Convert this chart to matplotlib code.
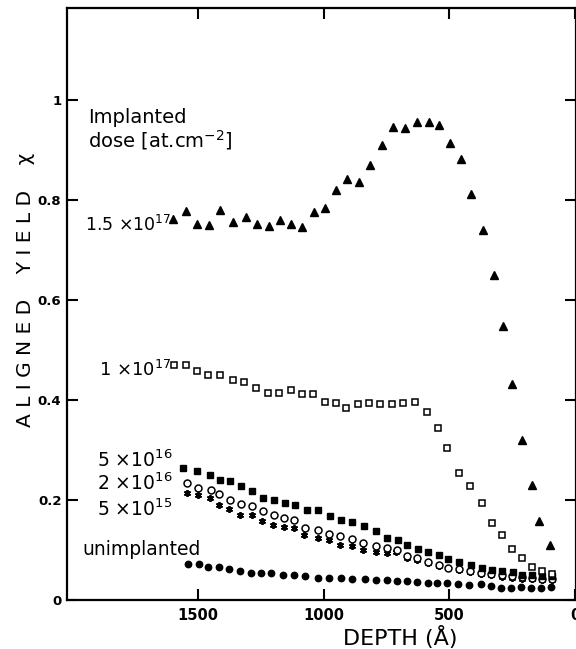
import numpy as np
import matplotlib
matplotlib.use('Agg')
import matplotlib.pyplot as plt

plt.rcParams['font.family'] = ['DejaVu Sans']
plt.rcParams['mathtext.default'] = 'regular'

# Donnees (profondeur en Angstrom, rendement aligne chi)
depth_15e17 = [1600, 1547, 1503, 1457, 1412, 1363, 1311, 1266, 1219, 1176, 1130, 1085,
               1040, 994, 950, 906, 858, 816, 769, 724, 675, 629, 583, 541, 499, 455,
               413, 367, 323, 288, 251, 211, 171, 143, 100]
chi_15e17 = [0.763, 0.779, 0.752, 0.751, 0.780, 0.756, 0.766, 0.752, 0.748, 0.761, 0.753,
             0.747, 0.776, 0.785, 0.821, 0.843, 0.837, 0.870, 0.911, 0.947, 0.945, 0.957,
             0.957, 0.951, 0.915, 0.883, 0.813, 0.741, 0.651, 0.548, 0.433, 0.320, 0.231,
             0.158, 0.111]

depth_1e17 = [1598, 1550, 1504, 1459, 1413, 1363, 1317, 1270, 1223, 1179, 1132, 1088,
              1043, 995, 951, 910, 865, 820, 775, 730, 685, 638, 588, 547, 508, 462,
              418, 371, 330, 292, 251, 211, 173, 132, 90]
chi_1e17 = [0.471, 0.471, 0.458, 0.451, 0.451, 0.441, 0.436, 0.425, 0.415, 0.415, 0.420,
            0.413, 0.413, 0.397, 0.395, 0.385, 0.393, 0.395, 0.392, 0.393, 0.395, 0.397,
            0.376, 0.345, 0.305, 0.255, 0.229, 0.195, 0.155, 0.131, 0.103, 0.085, 0.067,
            0.059, 0.052]

depth_5e16 = [1562, 1503, 1454, 1413, 1374, 1330, 1285, 1242, 1198, 1156, 1114, 1066,
              1021, 975, 932, 886, 839, 794, 750, 703, 667, 625, 586, 543, 504, 460,
              414, 372, 329, 289, 247, 211, 171, 132, 93]
chi_5e16 = [0.265, 0.258, 0.251, 0.240, 0.239, 0.228, 0.219, 0.205, 0.201, 0.195, 0.190,
            0.181, 0.180, 0.168, 0.161, 0.157, 0.148, 0.139, 0.125, 0.120, 0.111, 0.103,
            0.097, 0.091, 0.083, 0.077, 0.070, 0.065, 0.060, 0.059, 0.057, 0.051, 0.051,
            0.049, 0.049]

depth_2e16 = [1545, 1499, 1450, 1416, 1374, 1330, 1284, 1242, 1200, 1160, 1117, 1073,
              1021, 978, 935, 886, 844, 794, 748, 707, 669, 628, 586, 543, 504, 462,
              418, 375, 333, 292, 252, 212, 173, 133, 93]
chi_2e16 = [0.235, 0.225, 0.221, 0.212, 0.200, 0.192, 0.188, 0.179, 0.170, 0.165, 0.160,
            0.145, 0.140, 0.133, 0.129, 0.123, 0.115, 0.108, 0.105, 0.101, 0.089, 0.085,
            0.077, 0.070, 0.065, 0.062, 0.058, 0.055, 0.052, 0.050, 0.048, 0.046, 0.044,
            0.043, 0.042]

depth_5e15 = [1545, 1499, 1453, 1417, 1376, 1334, 1285, 1244, 1202, 1159, 1120, 1077,
              1024, 981, 935, 886, 843, 794, 750, 711, 669, 628, 586, 543, 504, 462,
              418, 375, 333, 292, 252, 212, 173, 133, 93]
chi_5e15 = [0.215, 0.211, 0.205, 0.190, 0.182, 0.170, 0.170, 0.158, 0.151, 0.147, 0.145,
            0.130, 0.125, 0.120, 0.111, 0.108, 0.101, 0.097, 0.095, 0.097, 0.085, 0.080,
            0.074, 0.068, 0.064, 0.060, 0.056, 0.053, 0.050, 0.047, 0.045, 0.043, 0.042,
            0.041, 0.040]

depth_unimp = [1541, 1497, 1459, 1417, 1376, 1334, 1290, 1248, 1211, 1163, 1120, 1074,
               1024, 978, 932, 886, 837, 794, 750, 707, 669, 627, 587, 550, 511, 464,
               421, 376, 333, 293, 254, 214, 175, 135, 96]
chi_unimp = [0.072, 0.072, 0.067, 0.067, 0.063, 0.059, 0.055, 0.055, 0.055, 0.050, 0.050,
             0.048, 0.045, 0.045, 0.045, 0.043, 0.042, 0.040, 0.040, 0.039, 0.038, 0.037,
             0.035, 0.035, 0.035, 0.032, 0.030, 0.032, 0.028, 0.025, 0.025, 0.027, 0.025,
             0.025, 0.027]

x_ticks = [1500, 1000, 500, 0]
x_tick_labels = ['1500', '1000', '500', '0']
y_ticks = [0, 0.2, 0.4, 0.6, 0.8, 1.0]
y_tick_labels = ['0', '0.2', '0.4', '0.6', '0.8', '1']

fig = plt.figure(figsize=(5.76, 6.49), dpi=100)
ax = fig.add_axes([67 / 576, 49 / 649, (575.5 - 67) / 576, 592 / 649])

# Series
ax.plot(depth_unimp, chi_unimp, 'o', ms=4.6, color='black', ls='none')
ax.plot(depth_5e15, chi_5e15, marker=(6, 2, 0), ms=5, mew=1.3, color='black', ls='none')
ax.plot(depth_2e16, chi_2e16, 'o', ms=5, mfc='white', mec='black', mew=1.1, ls='none')
ax.plot(depth_5e16, chi_5e16, 's', ms=4, color='black', ls='none')
ax.plot(depth_1e17, chi_1e17, 's', ms=4, mfc='white', mec='black', mew=1.1, ls='none')
ax.plot(depth_15e17, chi_15e17, '^', ms=5.5, color='black', ls='none')

ax.set_xlim(2022, -2)
ax.set_ylim(0, 1.184)

ax.set_xticks(x_ticks)
ax.set_xticklabels(x_tick_labels, fontsize=10.5, fontweight='bold')
ax.set_yticks(y_ticks)
ax.set_yticklabels(y_tick_labels, fontsize=9.5, fontweight='bold')
ax.tick_params(direction='in', length=8, width=1.5, top=True, right=True, pad=6)
ax.tick_params(axis='y', pad=4)
for s in ax.spines.values():
    s.set_linewidth(1.6)

# Libelles
ax.text(1937, 0.954, 'Implanted', fontsize=14)
ax.text(1937, 0.906, 'dose [at.cm$^{-2}$]', fontsize=14)
ax.text(1952, 0.738, '1.5 ×10$^{17}$', fontsize=12.5)
ax.text(1895, 0.448, '1 ×10$^{17}$', fontsize=13)
ax.text(1902, 0.266, '5 ×10$^{16}$', fontsize=13.5)
ax.text(1902, 0.220, '2 ×10$^{16}$', fontsize=13.5)
ax.text(1902, 0.168, '5 ×10$^{15}$', fontsize=13.5)
ax.text(1961, 0.090, 'unimplanted', fontsize=13.5)

fig.text(343 / 576, 4 / 649, 'DEPTH (Å)', fontsize=16, ha='left', va='baseline')
fig.text(26 / 576, 1 - 290 / 649, 'A L I G N E D    Y I E L D    χ', fontsize=14.5,
         rotation=90, ha='center', va='center')

fig.savefig('out.png', dpi=100)
